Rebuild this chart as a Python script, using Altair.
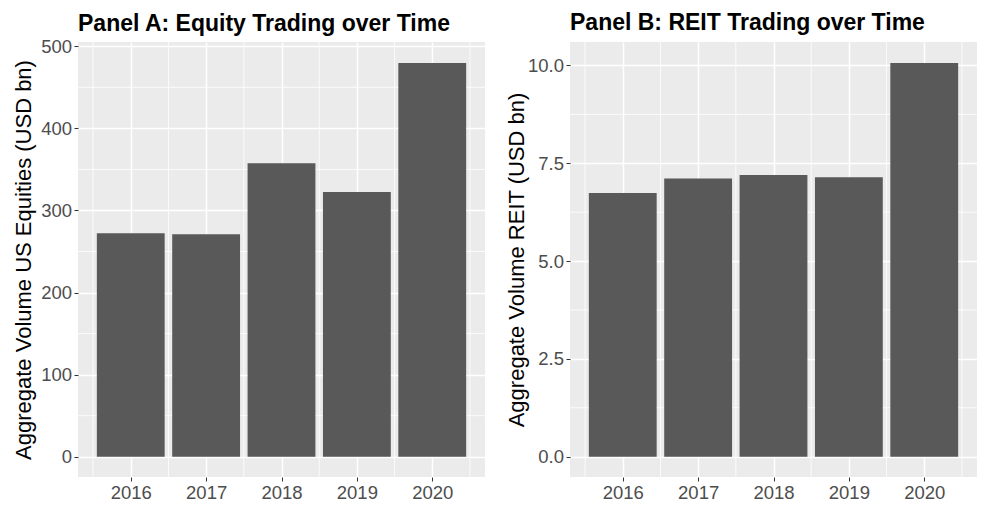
import altair as alt
import pandas as pd

years = [2016, 2017, 2018, 2019, 2020]
equity_volume = [272.2, 271.0, 357.5, 322.5, 479.7]
reit_volume = [6.74, 7.11, 7.20, 7.14, 10.06]

equity_ticks = [0, 100, 200, 300, 400, 500]
reit_ticks = [0.0, 2.5, 5.0, 7.5, 10.0]

FONT = "Liberation Sans"
W, H = 407, 435


def panel(values, title, ytitle, ydomain, yticks, yfmt, title_offset, title_pad):
    df = pd.DataFrame({"Year": years, "Volume": values})
    xscale = alt.Scale(domain=[years[0] - 0.7, years[-1] + 0.7], nice=False, zero=False)
    yscale = alt.Scale(domain=ydomain, nice=False)
    step = yticks[1] - yticks[0]
    minor_y = [t + step / 2 for t in yticks if t + step / 2 < ydomain[1]]
    minor_x = [y - 0.5 for y in years] + [years[-1] + 0.5]

    xaxis = alt.Axis(values=years, format="d", title=None, labelPadding=2)
    yaxis = alt.Axis(values=yticks, format=yfmt, title=ytitle,
                     labelPadding=2.5, titlePadding=title_pad)

    vgrid = alt.Chart(pd.DataFrame({"gx": minor_x})).mark_rule(
        color="white", strokeWidth=0.8
    ).encode(x=alt.X("gx:Q", scale=xscale, axis=xaxis))
    hgrid = alt.Chart(pd.DataFrame({"gy": minor_y})).mark_rule(
        color="white", strokeWidth=0.8
    ).encode(y=alt.Y("gy:Q", scale=yscale, axis=yaxis))

    bars = alt.Chart(df).transform_calculate(
        x0="datum.Year - 0.45", x1="datum.Year + 0.45"
    ).mark_bar(color="#595959").encode(
        x=alt.X("x0:Q", scale=xscale, axis=xaxis),
        x2="x1:Q",
        y=alt.Y("Volume:Q", scale=yscale, axis=yaxis),
        y2=alt.Y2(datum=0),
    )
    return alt.layer(vgrid, hgrid, bars).properties(
        width=W, height=H,
        title=alt.TitleParams(title, anchor="start", frame="group", offset=title_offset),
    )


a = panel(equity_volume, "Panel A: Equity Trading over Time",
          "Aggregate Volume US Equities (USD bn)", [-24.7, 505.2], equity_ticks, "d",
          1.5, 5)
b = panel(reit_volume, "Panel B: REIT Trading over Time",
          "Aggregate Volume REIT (USD bn)", [-0.52, 10.6], reit_ticks, ".1f",
          6.5, -1)

chart = alt.hconcat(a, b, spacing=85, bounds="flush").properties(
    padding={"left": 4, "top": 4, "right": 0, "bottom": 0},
    background="white",
).configure_view(
    fill="#EBEBEB", stroke=None
).configure_axis(
    domain=False,
    tickColor="#333333", tickSize=4, tickWidth=1,
    labelColor="#4D4D4D", labelFont=FONT, labelFontSize=18.5,
    titleFont=FONT, titleFontSize=22, titleColor="black", titleFontWeight="normal",
    grid=True, gridColor="white", gridWidth=1.5,
).configure_title(
    font=FONT, fontSize=23, fontWeight="bold", color="black",
)

chart.save("out.html", embed_options={"renderer": "svg", "actions": False})
